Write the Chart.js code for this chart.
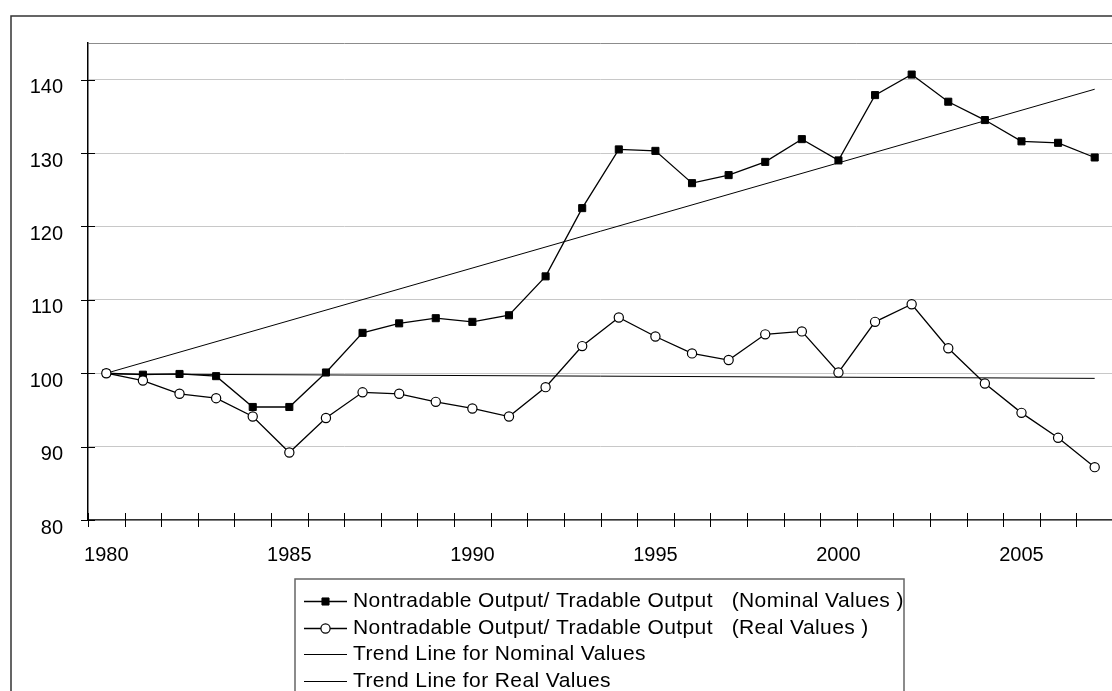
<!DOCTYPE html>
<html>
<head>
<meta charset="utf-8">
<script src="https://cdn.jsdelivr.net/npm/chart.js@4.4.1/dist/chart.umd.min.js"></script>
<style>
    html, body { margin: 0; padding: 0; background: #fff; overflow: hidden; }
    #contenedor { position: relative; width: 1120px; height: 691px; }
</style>
</head>
<body>
<div id="contenedor"><canvas id="graficaProduccion" width="1120" height="691"></canvas></div>
<script>
// Datos
const anios = ['1980', '1981', '1982', '1983', '1984', '1985', '1986', '1987', '1988', '1989',
    '1990', '1991', '1992', '1993', '1994', '1995', '1996', '1997', '1998', '1999',
    '2000', '2001', '2002', '2003', '2004', '2005', '2006', '2007'];

const valoresNominales = [100, 99.8, 99.9, 99.6, 95.4, 95.4, 100.1, 105.5, 106.8, 107.5,
    107.0, 107.9, 113.2, 122.5, 130.5, 130.3, 125.9, 127.0, 128.8, 131.9,
    129.0, 137.9, 140.7, 137.0, 134.5, 131.6, 131.4, 129.4];

const valoresReales = [100, 99.0, 97.2, 96.6, 94.1, 89.2, 93.9, 97.4, 97.2, 96.1,
    95.2, 94.1, 98.1, 103.7, 107.6, 105.0, 102.7, 101.8, 105.3, 105.7,
    100.1, 107.0, 109.4, 103.4, 98.6, 94.6, 91.2, 87.2];

// Lineas de tendencia: extremos
const tendenciaNominalAnios = ['1980', '2007'];
const tendenciaNominalValores = [100, 138.7];
const tendenciaRealAnios = ['1980', '2007'];
const tendenciaRealValores = [99.9, 99.3];

const ticksY = [80, 90, 100, 110, 120, 130, 140];
const minY = 80;
const maxY = 145;

const etiquetasLeyenda = [
    'Nontradable Output/ Tradable Output   (Nominal Values )',
    'Nontradable Output/ Tradable Output   (Real Values )',
    'Trend Line for Nominal Values',
    'Trend Line for Real Values'
];

const fuente = '"Liberation Sans", Arial, sans-serif';
Chart.defaults.font.family = fuente;
Chart.defaults.color = '#000';

function puntos(labels, valores) {
    return labels.map((l, i) => ({ x: l, y: valores[i] }));
}

// Marco exterior (solo borde superior e izquierdo visibles)
const pluginMarco = {
    id: 'marco',
    beforeDraw(chart) {
        const ctx = chart.ctx;
        ctx.save();
        ctx.strokeStyle = '#333';
        ctx.lineWidth = 1.5;
        ctx.beginPath();
        ctx.moveTo(11, chart.height + 5);
        ctx.lineTo(11, 16);
        ctx.lineTo(chart.width + 5, 16);
        ctx.stroke();
        ctx.restore();
    }
};

// Marcas de los ejes que cruzan la linea del eje
const pluginMarcas = {
    id: 'marcas',
    afterDatasetsDraw(chart) {
        const { ctx, chartArea, scales } = chart;
        ctx.save();
        ctx.strokeStyle = '#000';
        ctx.lineWidth = 1;
        ctx.beginPath();
        for (let i = 0; i <= anios.length; i++) {
            const px = Math.round(scales.x.getPixelForValue(i - 0.5)) + 0.5;
            ctx.moveTo(px, chartArea.bottom - 7);
            ctx.lineTo(px, chartArea.bottom + 7);
        }
        ticksY.forEach(v => {
            const py = Math.round(scales.y.getPixelForValue(v)) + 0.5;
            ctx.moveTo(chartArea.left - 7, py);
            ctx.lineTo(chartArea.left + 7, py);
        });
        ctx.stroke();
        ctx.restore();
    }
};

// Leyenda en caja, una serie por fila
const pluginLeyenda = {
    id: 'leyendaCaja',
    afterDraw(chart) {
        const ctx = chart.ctx;
        const caja = { left: 295, top: 579, right: 904 };
        ctx.save();
        ctx.strokeStyle = '#666';
        ctx.lineWidth = 1.5;
        ctx.beginPath();
        ctx.moveTo(caja.left, chart.height + 5);
        ctx.lineTo(caja.left, caja.top);
        ctx.lineTo(caja.right, caja.top);
        ctx.lineTo(caja.right, chart.height + 5);
        ctx.stroke();

        ctx.font = '21px ' + fuente;
        ctx.letterSpacing = '0.4px';
        ctx.textBaseline = 'middle';
        ctx.textAlign = 'left';
        chart.data.datasets.forEach((ds, i) => {
            const cy = Math.round(601 + i * 26.7) + 0.5;
            ctx.strokeStyle = ds.borderColor;
            ctx.lineWidth = ds.borderWidth;
            ctx.beginPath();
            ctx.moveTo(304, cy);
            ctx.lineTo(347, cy);
            ctx.stroke();
            if (ds.pointRadius > 0) {
                ctx.fillStyle = ds.pointBackgroundColor;
                ctx.strokeStyle = ds.pointBorderColor;
                ctx.lineWidth = ds.pointBorderWidth;
                Chart.helpers.drawPoint(ctx, {
                    pointStyle: ds.pointStyle,
                    radius: ds.pointRadius,
                    borderWidth: ds.pointBorderWidth,
                    rotation: 0
                }, 325.5, cy);
            }
            ctx.fillStyle = '#000';
            ctx.fillText(etiquetasLeyenda[i], 353, cy);
        });
        ctx.restore();
    }
};

const ctx = document.getElementById('graficaProduccion').getContext('2d');
new Chart(ctx, {
    type: 'line',
    data: {
        labels: anios,
        datasets: [{
            label: etiquetasLeyenda[0],
            data: valoresNominales,
            borderColor: '#000',
            borderWidth: 1.3,
            pointStyle: 'rect',
            pointRadius: 5,
            pointBackgroundColor: '#000',
            pointBorderColor: '#000',
            pointBorderWidth: 1,
            tension: 0,
            order: 1
        }, {
            label: etiquetasLeyenda[1],
            data: valoresReales,
            borderColor: '#000',
            borderWidth: 1.3,
            pointStyle: 'circle',
            pointRadius: 4.6,
            pointBackgroundColor: '#fff',
            pointBorderColor: '#000',
            pointBorderWidth: 1.2,
            tension: 0,
            order: 0
        }, {
            label: etiquetasLeyenda[2],
            data: puntos(tendenciaNominalAnios, tendenciaNominalValores),
            borderColor: '#000',
            borderWidth: 1,
            pointRadius: 0,
            order: 2
        }, {
            label: etiquetasLeyenda[3],
            data: puntos(tendenciaRealAnios, tendenciaRealValores),
            borderColor: '#000',
            borderWidth: 1,
            pointRadius: 0,
            order: 3
        }]
    },
    options: {
        responsive: false,
        animation: false,
        devicePixelRatio: 1,
        events: [],
        layout: { padding: { left: 0, top: 43, right: 7, bottom: 0 } },
        plugins: {
            legend: { display: false },
            tooltip: { enabled: false }
        },
        scales: {
            x: {
                type: 'category',
                offset: true,
                grid: { display: false },
                border: { display: true, color: '#333', width: 1.5 },
                ticks: {
                    autoSkip: false,
                    maxRotation: 0,
                    minRotation: 0,
                    padding: 15,
                    font: { size: 20 },
                    callback: function(val, i) {
                        return Number(anios[i]) % 5 === 0 ? anios[i] : '';
                    }
                },
                afterFit: function(scale) { scale.height = 171; }
            },
            y: {
                min: minY,
                max: maxY,
                afterBuildTicks: function(scale) {
                    scale.ticks = ticksY.concat([maxY]).map(v => ({ value: v }));
                },
                grid: {
                    drawTicks: false,
                    lineWidth: 1,
                    color: c => (c.tick && c.tick.value === maxY) ? '#8c8c8c' : '#c8c8c8'
                },
                border: { color: '#000', width: 1.5 },
                ticks: {
                    padding: 25,
                    labelOffset: 8,
                    font: { size: 20 },
                    callback: v => ticksY.includes(v) ? String(v) : ''
                },
                afterFit: function(scale) { scale.width = 88; }
            }
        }
    },
    plugins: [pluginMarco, pluginMarcas, pluginLeyenda]
});
</script>
</body>
</html>
